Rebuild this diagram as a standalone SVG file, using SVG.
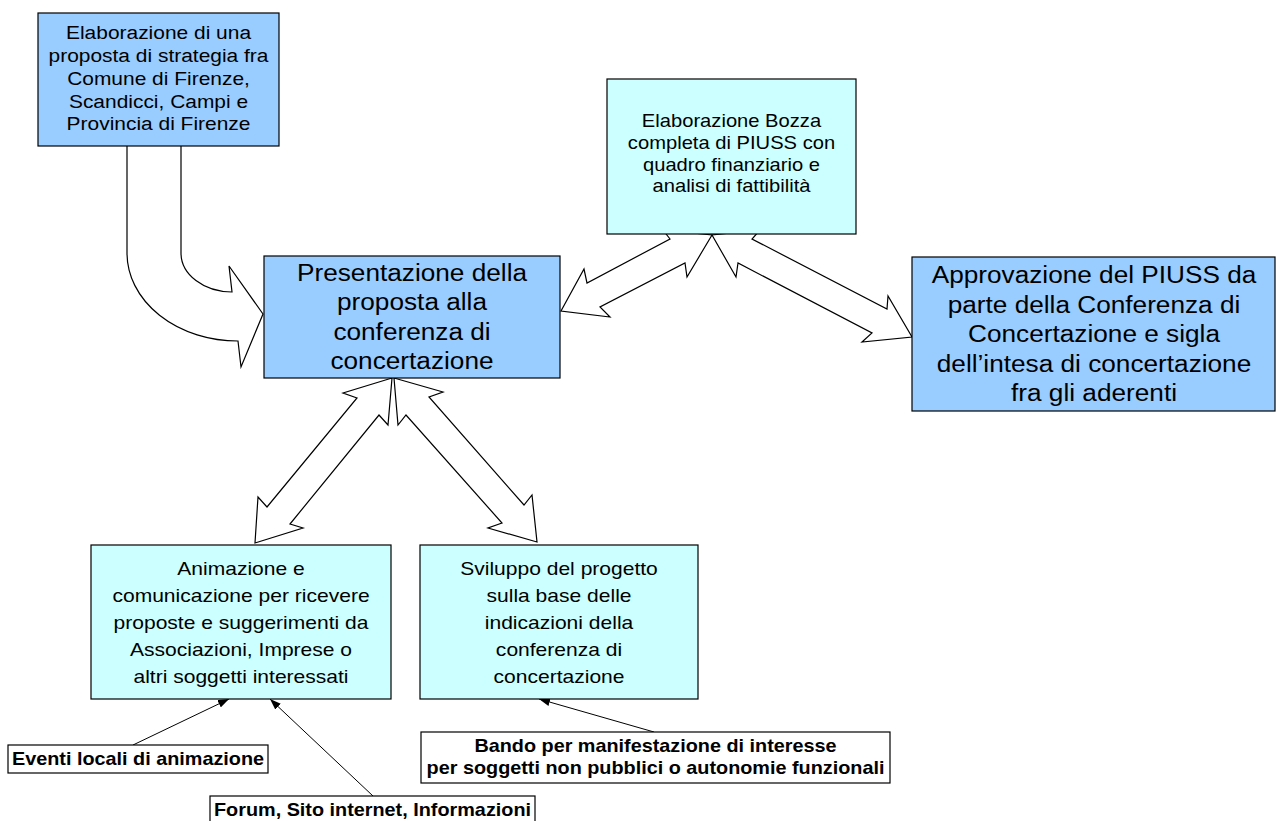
<svg xmlns="http://www.w3.org/2000/svg" width="1276" height="821" viewBox="0 0 1276 821">
<defs>
<style>
.bg{fill:#ffffff}
.blue{fill:#99CCFF;stroke:#000;stroke-width:1.2}
.cyan{fill:#CCFFFF;stroke:#000;stroke-width:1.2}
.lbl{fill:#ffffff;stroke:#000;stroke-width:1.2}
.big{fill:#ffffff;stroke:#000;stroke-width:1.2;stroke-linejoin:miter}
.thin{fill:none;stroke:#000;stroke-width:1}
text{font-family:"Liberation Sans",Arial,sans-serif;fill:#000;text-anchor:middle}
.f18{font-size:18px}
.f188{font-size:18.7px}
.f19{font-size:18.8px}
.f23{font-size:23.4px}
.fb{font-size:17.7px;font-weight:bold}
</style>
<marker id="ah" markerUnits="userSpaceOnUse" markerWidth="11" markerHeight="8" refX="11" refY="4" orient="auto">
<path d="M0,0 L11,4 L0,8 Z" fill="#000"/>
</marker>
</defs>
<rect class="bg" x="0" y="0" width="1276" height="821"/>
<g id="connectors">
<path class="big" d="M127 140 L127 253 A111 88 0 0 0 238 341 L241 367 L263 314 L229 266 L232 292 A51 39 0 0 1 181 253 L181 140 Z"/>
<path class="big" d="M712 235 L687 277 L685 263 L600 307 L610 317 L561 311 L584 269 L587 283 L670 239 L663 230 Z"/>
<path class="big" d="M712 235 L736 277 L738 263 L872 333 L862 342 L912 337 L888 296 L887 309 L752 239 L760 230 Z"/>
<path class="big" d="M392 378 L343 393 L357 398 L267 507 L258 497 L255 543 L303 528 L290 524 L379 415 L388 425 Z"/>
<path class="big" d="M394 378 L443 392 L429 397 L524 505 L532 495 L537 542 L488 528 L502 523 L406 415 L398 425 Z"/>
<line class="thin" x1="133" y1="745" x2="229" y2="699" marker-end="url(#ah)"/>
<line class="thin" x1="373" y1="796" x2="270" y2="699" marker-end="url(#ah)"/>
<line class="thin" x1="654" y1="732" x2="539" y2="699" marker-end="url(#ah)"/>
</g>
<g id="n1">
<rect class="blue" x="38" y="13" width="241" height="133"/>
<text class="f188" transform="translate(158.5 0) scale(1.12 1)"><tspan x="0" y="39.5">Elaborazione di una</tspan><tspan x="0" y="62.2">proposta di strategia fra</tspan><tspan x="0" y="85">Comune di Firenze,</tspan><tspan x="0" y="107.7">Scandicci, Campi e</tspan><tspan x="0" y="130.3">Provincia di Firenze</tspan></text>
</g>
<g id="n2">
<rect class="cyan" x="607" y="79" width="249" height="155"/>
<text class="f18" transform="translate(731.5 0) scale(1.12 1)"><tspan x="0" y="127.3">Elaborazione Bozza</tspan><tspan x="0" y="149.3">completa di PIUSS con</tspan><tspan x="0" y="171">quadro finanziario e</tspan><tspan x="0" y="192.5">analisi di fattibilità</tspan></text>
</g>
<g id="n3">
<rect class="blue" x="264" y="256" width="296" height="122"/>
<text class="f23" transform="translate(412 0) scale(1.12 1)"><tspan x="0" y="281">Presentazione della</tspan><tspan x="0" y="310.5">proposta alla</tspan><tspan x="0" y="340">conferenza di</tspan><tspan x="0" y="369.5">concertazione</tspan></text>
</g>
<g id="n4">
<rect class="blue" x="912" y="257" width="363" height="154"/>
<text class="f23" transform="translate(1094 0) scale(1.12 1)"><tspan x="0" y="283.5">Approvazione del PIUSS da</tspan><tspan x="0" y="313">parte della Conferenza di</tspan><tspan x="0" y="342.5">Concertazione e sigla</tspan><tspan x="0" y="372">dell’intesa di concertazione</tspan><tspan x="0" y="401.5">fra gli aderenti</tspan></text>
</g>
<g id="n5">
<rect class="cyan" x="91" y="545" width="300" height="154"/>
<text class="f19" transform="translate(241 0) scale(1.12 1)"><tspan x="0" y="575.5">Animazione e</tspan><tspan x="0" y="602.5">comunicazione per ricevere</tspan><tspan x="0" y="629.5">proposte e suggerimenti da</tspan><tspan x="0" y="656.5">Associazioni, Imprese o</tspan><tspan x="0" y="683.5">altri soggetti interessati</tspan></text>
</g>
<g id="n6">
<rect class="cyan" x="420" y="545" width="278" height="154"/>
<text class="f19" transform="translate(559 0) scale(1.12 1)"><tspan x="0" y="575.5">Sviluppo del progetto</tspan><tspan x="0" y="602.5">sulla base delle</tspan><tspan x="0" y="629.5">indicazioni della</tspan><tspan x="0" y="656.5">conferenza di</tspan><tspan x="0" y="683.5">concertazione</tspan></text>
</g>
<g id="n7">
<rect class="lbl" x="8" y="745" width="260" height="28"/>
<text class="fb" transform="translate(138 0) scale(1.12 1)"><tspan x="0" y="765.5">Eventi locali di animazione</tspan></text>
</g>
<g id="n8">
<rect class="lbl" x="210" y="796" width="325" height="28"/>
<text class="fb" transform="translate(372.5 0) scale(1.12 1)"><tspan x="0" y="816">Forum, Sito internet, Informazioni</tspan></text>
</g>
<g id="n9">
<rect class="lbl" x="421" y="732" width="469" height="51"/>
<text class="fb" transform="translate(655.5 0) scale(1.12 1)"><tspan x="0" y="752.5">Bando per manifestazione di interesse</tspan><tspan x="0" y="774">per soggetti non pubblici o autonomie funzionali</tspan></text>
</g>
</svg>
